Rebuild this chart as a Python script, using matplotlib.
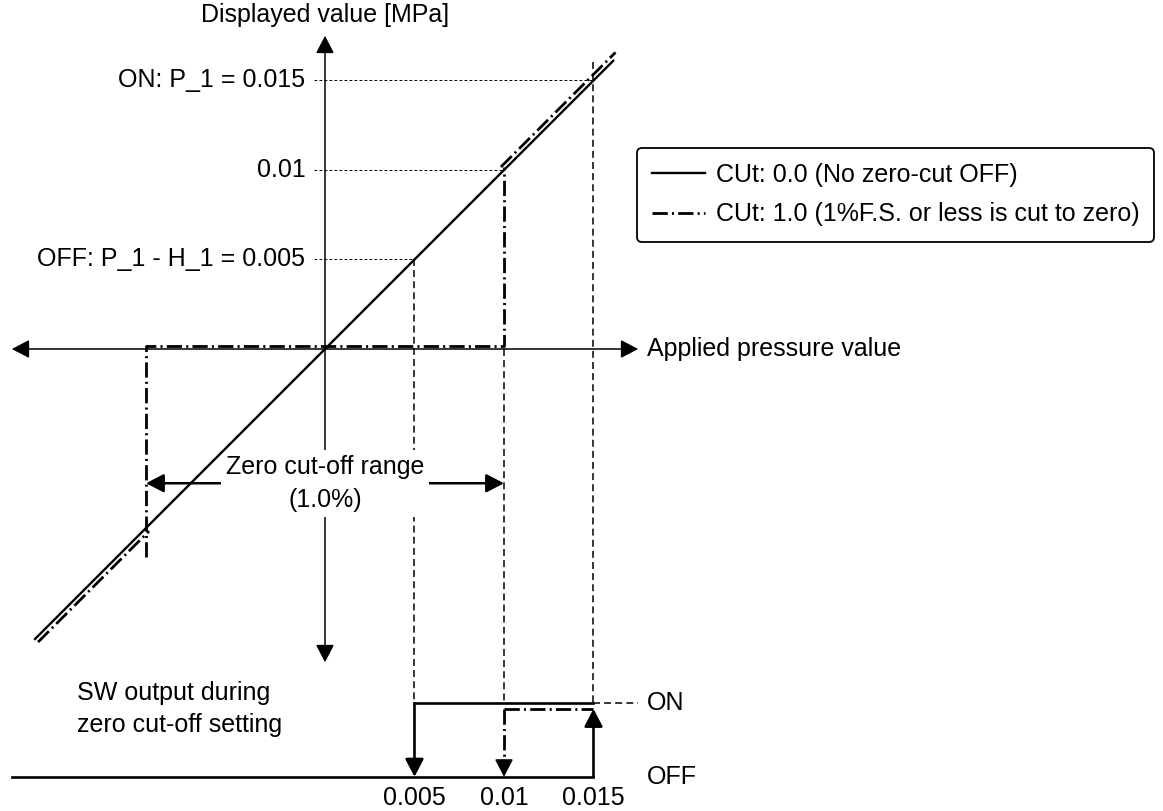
import numpy as np
import matplotlib.pyplot as plt
from matplotlib.lines import Line2D
from matplotlib.transforms import offset_copy

plt.rcParams['font.family'] = ['Liberation Sans', 'DejaVu Sans']
plt.rcParams['lines.scale_dashes'] = False

# values [MPa] ---------------------------------------------------------------
thresholds = [0.005, 0.01, 0.015]
threshold_labels = ['0.005', '0.01', '0.015']
level_labels = ['OFF: P_1 - H_1 = 0.005', '0.01', 'ON: P_1 = 0.015']
p_on = 0.015      # P_1
p_off = 0.005     # P_1 - H_1
cut = 0.01        # zero cut-off limit (1 %F.S.)

# CUt 0.0 : displayed = applied
line_x = [-0.0162, 0.0161]
# CUt 1.0 : cut to zero inside +-1 %
cut_low_x = [-0.0162, -0.01]
cut_mid_x = [-0.01, -0.01, 0.01, 0.01]
cut_mid_y = [-0.0118, 0.0, 0.0, 0.01]
cut_high_x = [0.01, 0.0164]

# layout (schematic positions, data units)
reach = 0.0175
sw_on = -0.0198
sw_cut = -0.0201
sw_off = -0.0239
fs = 18

DASHDOT = (0, (11, 3, 1.5, 3))
DASHED = (0, (5, 3))
DOTTED = (0, (2, 1.6))

fig = plt.figure(figsize=(11.63, 8.11), dpi=100)
ax = fig.add_axes([0, 0, 1, 1])
ax.set_xlim(-0.018156, 0.046816)
ax.set_ylim(-0.02581, 0.019497)
ax.axis('off')


def arrow(x0, y0, x1, y1, lw=1.1, style='-|>', z=2):
    ax.annotate('', xy=(x1, y1), xytext=(x0, y0), zorder=z,
                arrowprops=dict(arrowstyle=style + ',head_length=0.77,head_width=0.4',
                                mutation_scale=14, lw=lw, color='k',
                                shrinkA=0, shrinkB=0))


# axes with arrows
arrow(-reach, 0, reach, 0, style='<|-|>')
arrow(0, -reach, 0, reach, style='<|-|>')

# guide lines
for t in thresholds:
    ax.plot([-0.0006, t], [t, t], color='k', lw=0.7, ls=DOTTED, zorder=2)
ax.plot([p_off, p_off], [p_off, sw_on], color='k', lw=1.1, ls=DASHED, zorder=2)
ax.plot([p_on, p_on], [0.01603, sw_on], color='k', lw=1.1, ls=DASHED, zorder=2)
ax.plot([cut, cut], [0, sw_on], color='k', lw=1.1, ls=DASHED, zorder=2)
ax.plot([p_on, reach], [sw_on, sw_on], color='k', lw=1.1, ls=DASHED, zorder=2)

# displayed value lines
ax.plot(line_x, line_x, color='k', lw=1.7, zorder=5)
up_left = offset_copy(ax.transData, fig=fig, x=-2.2, y=2.2, units='points')
down_right = offset_copy(ax.transData, fig=fig, x=2.2, y=-2.2, units='points')
up = offset_copy(ax.transData, fig=fig, x=0, y=2.0, units='points')
ax.plot(cut_high_x, cut_high_x, color='k', lw=2.0, ls=DASHDOT, transform=up_left, zorder=5)
ax.plot(cut_low_x, cut_low_x, color='k', lw=2.0, ls=DASHDOT, transform=down_right, zorder=5)
ax.plot(cut_mid_x, cut_mid_y, color='k', lw=2.0, ls=DASHDOT, transform=up, zorder=5)

# zero cut-off range
arrow(-cut, -0.0075, cut, -0.0075, lw=1.8, style='<|-|>', z=3)
ax.text(0, -0.0075, 'Zero cut-off range\n(1.0%)', ha='center', va='center',
        fontsize=fs, multialignment='center', linespacing=1.45, zorder=4,
        bbox=dict(boxstyle='square,pad=0.2', fc='white', ec='none'))

# switch output
ax.plot([-reach, p_on], [sw_off, sw_off], color='k', lw=1.9, solid_capstyle='projecting', zorder=3)
ax.plot([p_off, p_on], [sw_on, sw_on], color='k', lw=1.9, solid_capstyle='projecting', zorder=3)
arrow(p_on, sw_off, p_on, sw_cut, lw=1.9, z=3)
arrow(p_off, sw_on, p_off, sw_off, lw=1.9, z=3)
ax.plot([cut, p_on], [sw_cut, sw_cut], color='k', lw=2.0, ls=DASHDOT, zorder=3)
ax.plot([cut, cut], [sw_cut, sw_off + 0.0008], color='k', lw=2.0, ls=DASHDOT, zorder=3)
arrow(cut, sw_off + 0.0009, cut, sw_off, lw=1.2, z=3)

# texts
ax.text(0, 0.018659, 'Displayed value [MPa]', ha='center', va='center', fontsize=fs)
for t, lab in zip(thresholds, level_labels):
    ax.text(-0.0011, t, lab, ha='right', va='center', fontsize=fs)
for t, lab in zip(thresholds, threshold_labels):
    ax.text(t, -0.02508, lab, ha='center', va='center', fontsize=fs)
ax.text(0.018, 0, 'Applied pressure value', ha='left', va='center', fontsize=fs)
ax.text(0.018, sw_on, 'ON', ha='left', va='center', fontsize=fs)
ax.text(0.018, sw_off, 'OFF', ha='left', va='center', fontsize=fs)
ax.text(-0.013855, -0.02011, 'SW output during\nzero cut-off setting', ha='left',
        va='center', fontsize=fs, linespacing=1.45)

handles = [Line2D([], [], color='k', lw=1.7),
           Line2D([], [], color='k', lw=2.0, ls=DASHDOT)]
labels = ['CUt: 0.0 (No zero-cut OFF)', 'CUt: 1.0 (1%F.S. or less is cut to zero)']
leg = ax.legend(handles, labels, loc='upper left', bbox_to_anchor=(637 / 1163, 1 - 148 / 811),
                bbox_transform=fig.transFigure, fontsize=fs, frameon=True, fancybox=True,
                edgecolor='k', framealpha=1, borderaxespad=0, borderpad=0.6,
                labelspacing=0.62, handlelength=2.1, handletextpad=0.45)
leg.get_frame().set_linewidth(1.3)

fig.savefig('out.png', dpi=100)
